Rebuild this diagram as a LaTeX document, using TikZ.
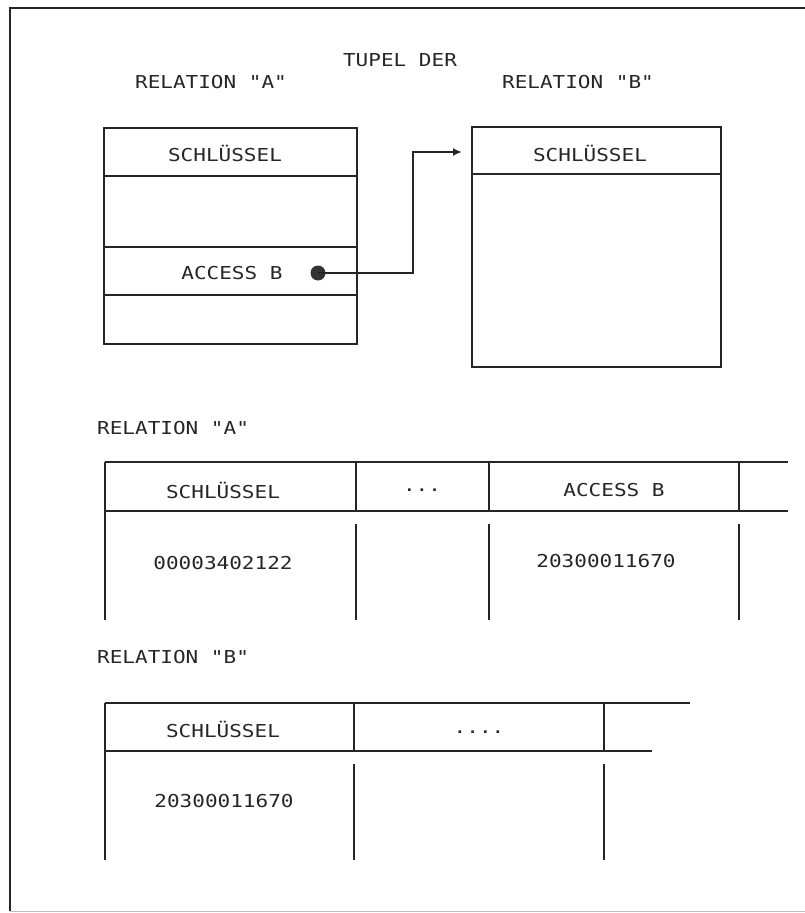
\documentclass[tikz,border=0pt]{standalone}
\usepackage{fontspec}
\newfontfamily\plotfont[FakeStretch=1.18]{DejaVu Sans Mono}
\usetikzlibrary{arrows.meta}
\tikzset{
  lbl/.style={font=\plotfont\fontsize{17.8}{20}\selectfont, inner sep=0pt, anchor=center, text=black!85},
  frame/.style={line width=2pt, black!85},
  rule/.style={line width=1.7pt, black!85},
  conn/.style={line width=1.7pt, black!85},
}
\begin{document}
\begin{tikzpicture}[x=1pt,y=-1pt]
\useasboundingbox (0,0) rectangle (805,913);
% outer frame
\draw[frame] (10,911) -- (10,8) -- (805,8);
\draw[line width=1pt, black!25] (10,911) -- (805,911);

% headings
\node[lbl] (tupel) at (400,60) {TUPEL DER};
\node[lbl] (relA) at (211,82) {RELATION "A"};
\node[lbl] (relB) at (578,82) {RELATION "B"};

% tuple box A
\draw[rule] (104,128) rectangle (357,344);
\draw[rule] (104,176) -- (357,176);
\draw[rule] (104,247) -- (357,247);
\draw[rule] (104,295) -- (357,295);
\node[lbl] (akey) at (225,153) {SCHLÜSSEL};
\node[lbl] (aacc) at (232,273) {ACCESS B};
\node[circle, fill=black!80, minimum size=15pt, inner sep=0pt] (dot) at (318,273) {};

% tuple box B
\draw[rule] (472,127) rectangle (721,367);
\draw[rule] (472,174) -- (721,174);
\node[lbl] (bkey) at (590,153) {SCHLÜSSEL};

% connector
\coordinate (bend) at (413,273);
\coordinate (tip) at (462,152);
\draw[conn, -{Latex[length=9pt,width=8pt]}] (dot.center) -- (bend) |- (tip);

% relation A table
\node[lbl, anchor=west] (tA) at (97,428) {RELATION "A"};
\draw[rule] (105,462) -- (788,462);
\draw[rule] (105,511) -- (788,511);
\draw[rule] (105,462) -- (105,620);
\foreach \x in {356,489,739} {
  \draw[rule] (\x,462) -- (\x,511);
  \draw[rule] (\x,524) -- (\x,620);
}
\node[lbl] (ta1) at (223,490) {SCHLÜSSEL};
\node[lbl] (ta2) at (422,490) {...};
\node[lbl] (ta3) at (614,490) {ACCESS B};
\node[lbl] (ta4) at (223,563) {00003402122};
\node[lbl] (ta5) at (606,561) {20300011670};

% relation B table
\node[lbl, anchor=west] (tB) at (97,657) {RELATION "B"};
\draw[rule] (105,703) -- (690,703);
\draw[rule] (105,751) -- (652,751);
\draw[rule] (105,703) -- (105,860);
\foreach \x in {354,604} {
  \draw[rule] (\x,703) -- (\x,751);
  \draw[rule] (\x,764) -- (\x,860);
}
\node[lbl] (tb1) at (223,729) {SCHLÜSSEL};
\node[lbl] (tb2) at (479,732) {....};
\node[lbl] (tb3) at (224,801) {20300011670};
\end{tikzpicture}
\end{document}
